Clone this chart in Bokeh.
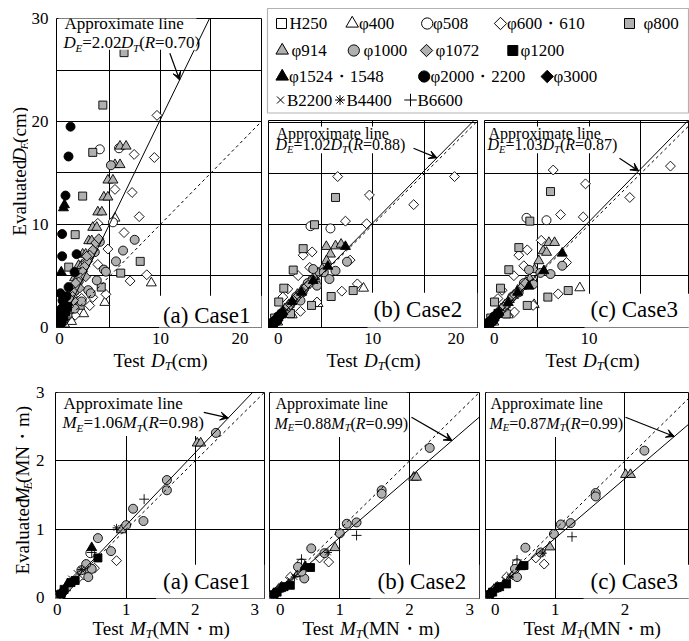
import math
from bokeh.plotting import figure
from bokeh.layouts import row, column
from bokeh.models import Range1d, FixedTicker, Label, Arrow, VeeHead, BoxAnnotation
from bokeh.embed import file_html
from bokeh.resources import INLINE

# ---------------------------------------------------------------- data
SERIES = ["H250", "φ400", "φ508", "φ600・610", "φ800", "φ914", "φ1000", "φ1072",
          "φ1200", "φ1524・1548", "φ2000・2200", "φ3000", "B2200", "B4400", "B6600"]
CASES = ["(a) Case1", "(b) Case2", "(c) Case3"]
D_SLOPE = [2.02, 1.02, 1.03]
D_R = [0.70, 0.88, 0.87]
M_SLOPE = [1.06, 0.88, 0.87]
M_R = [0.98, 0.99, 0.99]
D_TICKS = [0, 10, 20, 30]
D_GRID = [5, 10, 15, 20, 25]
M_TICKS = [0, 1, 2, 3]
M_GRID = [1, 2]

# displacement, Case1  (test D_T, evaluated D_E), cm
D1 = {
    "H250": ([0.1, 0.2, 0.3, 0.15], [0.2, 0.4, 0.7, 0.1]),
    "φ400": ([9.1, 5.5, 4.5, 2.4, 1.2, 0.5], [4.3, 10.6, 2.4, 1.3, 0.55, 0.3]),
    "φ508": ([4.0, 5.9, 5.3, 0.3, 0.6], [17.3, 17.4, 10.2, 0.6, 1.0]),
    "φ600・610": ([9.66, 9.4, 7.4, 7.2, 5.5, 7.9, 6.4, 3.8, 4.8, 3.8, 8.65, 7.0, 4.6, 3.0, 1.56, 2.2, 0.8, 1.2, 3.3],
                 [20.6, 16.5, 16.8, 13.1, 13.4, 10.75, 9.2, 10.1, 7.6, 6.1, 5.1, 4.5, 3.2, 2.1, 1.16, 2.8, 1.0, 2.4, 2.9]),
    "φ800": ([6.4, 4.3, 3.3, 2.3, 1.56, 0.92, 8.0, 6.07, 4.14, 2.05, 0.5, 0.3],
             [26.7, 21.6, 17.0, 12.75, 9.0, 5.84, 6.4, 5.26, 3.9, 2.13, 1.2, 0.6]),
    "φ914": ([6.0, 6.6, 5.5, 6.0, 4.8, 5.3, 4.4, 4.8, 3.8, 4.2, 3.3, 3.7, 2.9, 3.2, 2.3, 2.6, 1.9, 2.2, 1.5, 1.8, 1.1, 1.4, 0.7, 1.0, 0.3, 0.5],
             [17.6, 17.6, 15.8, 15.8, 14.3, 14.3, 12.65, 12.65, 11.2, 11.2, 9.7, 9.7, 8.4, 8.4, 7.1, 7.1, 6.0, 6.0, 4.8, 4.8, 3.5, 3.5, 2.2, 2.2, 1.0, 1.0]),
    "φ1000": ([5.1, 7.45, 6.3, 5.6, 4.4, 3.7, 2.85, 4.6, 3.1, 2.2, 1.5, 0.8, 0.4, 3.5, 2.6, 1.8, 2.9, 4.0],
              [15.75, 8.5, 7.45, 6.4, 5.6, 4.55, 3.6, 5.4, 3.3, 2.5, 1.8, 1.2, 0.6, 7.3, 6.3, 4.3, 6.8, 8.3]),
    "φ1072": ([3.6, 3.3, 3.0, 2.8, 2.5, 2.3, 2.1, 1.9, 1.7, 1.5, 1.3, 1.1, 0.9, 0.7, 0.5, 0.35, 0.2, 2.6, 2.0, 1.4, 3.9, 2.7, 1.6, 1.0],
              [8.2, 7.5, 7.0, 6.4, 5.9, 5.4, 4.8, 4.4, 3.9, 3.4, 3.0, 2.5, 2.0, 1.6, 1.2, 0.8, 0.5, 4.9, 3.8, 2.6, 8.6, 6.9, 4.3, 2.8]),
    "φ1200": ([0.2, 0.4, 0.6, 0.1, 0.8], [0.6, 1.0, 1.5, 0.3, 2.0]),
    "φ1524・1548": ([0.4, 0.5, 0.18, 0.3, 0.6, 0.1], [11.6, 11.9, 5.36, 2.0, 1.6, 0.5]),
    "φ2000・2200": ([1.1, 0.9, 0.6, 0.27, 0.27, 1.7, 1.5, 0.9, 0.1, 0.3, 0.2, 0.5, 0.1, 0.7, 0.05, 0.15],
                   [19.5, 16.6, 12.8, 9.06, 6.9, 7.1, 5.36, 3.9, 3.3, 2.6, 1.8, 2.2, 1.0, 3.0, 0.5, 1.4]),
    "φ3000": ([0.05, 0.15, 0.25], [0.1, 0.4, 0.7]),
    "B2200": ([0.1, 0.2], [0.15, 0.35]),
    "B4400": ([0.3], [0.5]),
    "B6600": ([0.35], [0.45]),
}

# displacement, Case2
D2 = {
    "H250": ([0.1, 0.3], [0.1, 0.3]),
    "φ400": ([9.1, 4.7, 2.2, 0.8], [3.8, 2.3, 1.2, 0.5]),
    "φ508": ([3.97, 5.9, 4.45, 0.4], [9.86, 9.64, 4.55, 0.5]),
    "φ600・610": ([6.6, 17.9, 9.67, 13.95, 7.35, 9.4, 4.13, 3.26, 7.8, 3.9, 2.78, 8.5, 7.0, 4.6, 3.0, 1.78, 1.3, 0.6],
                 [14.7, 14.7, 12.9, 11.96, 10.35, 10.1, 7.35, 7.03, 6.55, 5.84, 5.03, 4.23, 3.52, 2.46, 1.55, 3.74, 2.94, 0.8]),
    "φ800": ([6.39, 4.36, 3.26, 2.3, 1.39, 0.9, 5.97, 8.1, 4.07, 2.04, 0.5],
             [12.66, 10.0, 7.67, 5.58, 3.81, 2.46, 3.0, 3.58, 2.13, 1.33, 0.9]),
    "φ914": ([6.39, 6.93, 5.5, 5.9, 5.52, 5.1, 4.7, 4.3, 3.9, 3.5, 3.1, 2.7, 2.3, 1.9, 1.5, 1.1, 0.7, 0.35],
             [7.93, 8.09, 7.87, 7.13, 6.48, 5.68, 5.3, 4.9, 4.5, 4.1, 3.6, 3.2, 2.7, 2.2, 1.8, 1.3, 0.85, 0.4]),
    "φ1000": ([7.5, 6.39, 5.26, 4.6, 4.23, 3.7, 3.2, 2.6, 2.0, 1.4, 0.8, 5.8, 3.0],
              [6.39, 5.51, 5.36, 4.06, 5.68, 4.3, 3.4, 3.0, 2.2, 1.6, 0.9, 4.7, 2.6]),
    "φ1072": ([0.2, 0.45, 0.6, 0.85, 1.0, 1.25, 1.4, 1.65, 1.8, 2.05, 2.2, 2.4, 2.65, 2.8, 3.05, 3.3, 3.6, 3.85, 4.2],
              [0.25, 0.4, 0.7, 0.85, 1.15, 1.3, 1.6, 1.75, 2.05, 2.2, 2.5, 2.6, 2.95, 3.1, 3.35, 3.6, 4.0, 4.2, 4.65]),
    "φ1200": ([0.2, 0.4, 0.6, 0.9, 1.2, 0.3, 0.75], [0.2, 0.45, 0.6, 1.0, 1.3, 0.15, 0.7]),
    "φ1524・1548": ([7.35, 5.65, 4.23, 3.1, 2.2, 1.3, 0.6, 0.3], [7.87, 5.94, 4.55, 3.4, 2.5, 1.5, 0.7, 0.35]),
    "φ2000・2200": ([0.05, 0.1, 0.2, 0.3, 0.5, 0.7, 0.9, 1.1, 0.4, 0.15], [0.1, 0.2, 0.3, 0.4, 0.6, 0.8, 1.1, 1.2, 0.3, 0.05]),
    "φ3000": ([0.1, 0.2], [0.1, 0.25]),
    "B2200": ([0.15], [0.2]),
    "B4400": ([0.25], [0.3]),
    "B6600": ([0.35], [0.4]),
}

# displacement, Case3
D3 = {
    "H250": ([0.1, 0.3], [0.1, 0.3]),
    "φ400": ([9.11, 4.7, 2.2, 0.8], [3.84, 2.2, 1.2, 0.5]),
    "φ508": ([3.96, 5.89, 4.5, 0.4], [10.67, 10.44, 4.6, 0.5]),
    "φ600・610": ([6.54, 17.87, 9.66, 13.94, 7.25, 9.44, 5.38, 4.03, 3.22, 3.7, 2.74, 7.83, 7.02, 4.6, 2.8, 1.6, 1.2],
                 [15.34, 15.72, 13.99, 12.66, 10.99, 10.76, 8.48, 7.55, 7.03, 6.0, 5.03, 6.32, 3.26, 2.13, 1.49, 3.6, 2.8]),
    "φ800": ([6.28, 4.28, 3.22, 2.25, 1.45, 0.87, 6.02, 7.99, 4.03, 2.0, 0.5],
             [13.24, 10.35, 7.77, 5.61, 3.81, 2.46, 2.94, 3.58, 2.13, 1.3, 0.9]),
    "φ914": ([6.12, 6.67, 5.57, 5.9, 5.15, 4.73, 4.28, 3.9, 3.5, 3.1, 2.7, 2.3, 1.9, 1.5, 1.1, 0.7, 0.35],
             [8.26, 8.26, 7.45, 7.3, 6.48, 5.61, 4.71, 4.4, 4.0, 3.6, 3.1, 2.7, 2.2, 1.8, 1.3, 0.85, 0.4]),
    "φ1000": ([7.41, 6.28, 5.3, 4.6, 4.2, 3.7, 3.2, 2.6, 2.0, 1.4, 0.8],
              [6.0, 5.19, 5.3, 4.2, 5.6, 4.3, 3.4, 3.0, 2.2, 1.6, 0.9]),
    "φ1072": ([0.2, 0.45, 0.6, 0.85, 1.0, 1.25, 1.4, 1.65, 1.8, 2.05, 2.2, 2.4, 2.65, 2.8, 3.05, 3.3, 3.6, 3.85],
              [0.25, 0.45, 0.7, 0.9, 1.15, 1.35, 1.6, 1.8, 2.05, 2.25, 2.5, 2.7, 3.0, 3.15, 3.4, 3.7, 4.0, 4.3]),
    "φ1200": ([0.2, 0.4, 0.6, 0.9, 1.2, 0.3, 0.75], [0.2, 0.45, 0.6, 1.0, 1.35, 0.15, 0.75]),
    "φ1524・1548": ([7.41, 5.64, 4.19, 3.1, 2.2, 1.3, 0.6, 0.3], [7.22, 5.51, 4.0, 3.4, 2.4, 1.45, 0.7, 0.35]),
    "φ2000・2200": ([0.05, 0.1, 0.2, 0.3, 0.5, 0.7, 0.9, 1.1, 0.4, 0.15], [0.1, 0.2, 0.3, 0.4, 0.6, 0.8, 1.1, 1.2, 0.3, 0.05]),
    "φ3000": ([0.1, 0.2], [0.1, 0.25]),
    "B2200": ([0.15], [0.2]),
    "B4400": ([0.25], [0.3]),
    "B6600": ([0.35], [0.4]),
}

# moment, Case1  (test M_T, evaluated M_E), MN·m
M1 = {
    "H250": ([0.0, 0.02], [0.0, 0.02]),
    "φ400": ([0.05, 0.12], [0.05, 0.14]),
    "φ508": ([0.48], [0.65]),
    "φ600・610": ([0.86, 0.54, 0.38, 0.3, 0.1], [0.54, 0.43, 0.33, 0.28, 0.1]),
    "φ800": ([0.03], [0.03]),
    "φ914": ([2.03, 2.08, 0.93, 0.4], [2.26, 2.26, 0.99, 0.4]),
    "φ1000": ([2.3, 1.59, 1.59, 1.1, 1.25, 1.0, 0.59, 0.78, 0.5, 0.42, 0.35, 0.45],
              [2.41, 1.72, 1.57, 1.3, 1.12, 1.06, 0.87, 0.68, 0.42, 0.49, 0.4, 0.3]),
    "φ1072": ([0.15, 0.1], [0.15, 0.1]),
    "φ1200": ([0.59, 0.26, 0.2, 0.1, 0.05], [0.58, 0.25, 0.22, 0.12, 0.05]),
    "φ1524・1548": ([0.5, 0.15], [0.73, 0.2]),
    "φ2000・2200": ([0.08], [0.08]),
    "φ3000": ([0.04], [0.05]),
    "B2200": ([0.2, 0.28, 0.05], [0.28, 0.36, 0.06]),
    "B4400": ([0.86, 0.35], [1.02, 0.41]),
    "B6600": ([1.26, 0.5], [1.44, 0.66]),
}

# moment, Case2
M2 = {
    "H250": ([0.0, 0.02], [0.0, 0.02]),
    "φ400": ([0.05, 0.12], [0.05, 0.12]),
    "φ508": ([0.45], [0.5]),
    "φ600・610": ([0.84, 0.71, 0.29, 0.1], [0.52, 0.58, 0.3, 0.1]),
    "φ800": ([0.03], [0.03]),
    "φ914": ([2.06, 2.1, 0.93, 0.4], [1.76, 1.76, 0.73, 0.35]),
    "φ1000": ([2.29, 1.6, 1.6, 1.1, 1.24, 1.0, 0.59, 0.78, 0.49, 0.45, 0.4],
              [2.19, 1.57, 1.52, 1.08, 1.1, 0.94, 0.72, 0.65, 0.28, 0.38, 0.45]),
    "φ1072": ([0.15, 0.1], [0.14, 0.09]),
    "φ1200": ([0.58, 0.29, 0.2, 0.1, 0.05], [0.44, 0.18, 0.16, 0.08, 0.04]),
    "φ1524・1548": ([0.5, 0.15], [0.45, 0.13]),
    "φ2000・2200": ([0.08], [0.07]),
    "φ3000": ([0.04], [0.04]),
    "B2200": ([0.2, 0.28, 0.05], [0.2, 0.26, 0.05]),
    "B4400": ([0.83, 0.35], [0.66, 0.3]),
    "B6600": ([1.24, 0.45], [0.91, 0.56]),
}

# moment, Case3
M3 = {
    "H250": ([0.0, 0.02], [0.0, 0.02]),
    "φ400": ([0.05, 0.12], [0.05, 0.12]),
    "φ508": ([0.45], [0.5]),
    "φ600・610": ([0.84, 0.72, 0.3, 0.1], [0.49, 0.58, 0.3, 0.1]),
    "φ800": ([0.03], [0.03]),
    "φ914": ([2.01, 2.08, 0.92, 0.4], [1.8, 1.8, 0.74, 0.35]),
    "φ1000": ([2.28, 1.58, 1.58, 1.22, 1.08, 0.98, 0.57, 0.79, 0.45, 0.42],
              [2.15, 1.53, 1.48, 1.09, 1.07, 0.93, 0.73, 0.66, 0.3, 0.42]),
    "φ1072": ([0.15, 0.1], [0.14, 0.09]),
    "φ1200": ([0.55, 0.3, 0.2, 0.1, 0.05], [0.47, 0.2, 0.16, 0.08, 0.04]),
    "φ1524・1548": ([0.5, 0.15], [0.45, 0.13]),
    "φ2000・2200": ([0.08], [0.07]),
    "φ3000": ([0.04], [0.04]),
    "B2200": ([0.2, 0.28, 0.05], [0.2, 0.26, 0.05]),
    "B4400": ([0.82, 0.35], [0.65, 0.3]),
    "B6600": ([1.24, 0.45], [0.89, 0.55]),
}

# ---------------------------------------------------------------- styles
FONT = "Liberation Serif"
GRAY = "#b0b0b0"
DIAMOND_ANGLE = math.pi / 4
MID = 0.3375  # distance (em) from the alphabetic baseline up to the middle of the em box
STYLE = {  # marker, fill, size
    "H250": ("square", "white", 8), "φ400": ("triangle", "white", 10),
    "φ508": ("circle", "white", 9), "φ600・610": ("square", "white", 7),
    "φ800": ("square", GRAY, 8), "φ914": ("triangle", GRAY, 10),
    "φ1000": ("circle", GRAY, 9), "φ1072": ("square", GRAY, 7),
    "φ1200": ("square", "black", 8), "φ1524・1548": ("triangle", "black", 10),
    "φ2000・2200": ("circle", "black", 9), "φ3000": ("square", "black", 7),
    "B2200": ("x", None, 8), "B4400": ("asterisk", None, 8), "B6600": ("cross", None, 10),
}
ROTATED = {"φ600・610", "φ1072", "φ3000"}

REG_W = {' ': .25, '(': .333, ')': .333, '.': .25, '=': .564, 'A': .722, 'E': .611, 'D': .722,
         'M': .889, 'N': .722, 'T': .611, 'a': .444, 'c': .444, 'd': .5, 'e': .444, 'i': .278,
         'l': .278, 'm': .778, 'n': .5, 'o': .5, 'p': .5, 'r': .333, 's': .389, 't': .278,
         'u': .5, 'v': .5, 'x': .5, '・': 1.0}
IT_W = {'D': .722, 'E': .611, 'M': .833, 'T': .556, 'R': .611}


def tw(s, it, size):
    t = IT_W if it else REG_W
    return sum(t.get(c, REG_W.get(c, 0.5)) for c in s) * size


class Panel:
    """Geometry of one figure; annotation positions are given in page pixels."""
    def __init__(self, ox, oy, w, h, mbl, mbr, mbt, mbb, xr, yr):
        self.ox, self.oy, self.w, self.h = ox, oy, w, h
        self.mbl, self.mbr, self.mbt, self.mbb = mbl, mbr, mbt, mbb
        self.fw, self.fh = w - mbl - mbr, h - mbt - mbb
        self.fx0, self.fy0 = ox + mbl, oy + mbt
        self.xr, self.yr = xr, yr

    def dx(self, px):
        return self.xr[0] + (px - self.fx0) * (self.xr[1] - self.xr[0]) / self.fw

    def dy(self, py):
        return self.yr[1] - (py - self.fy0) * (self.yr[1] - self.yr[0]) / self.fh


def make_fig(P, xticks, xgrid, yticks, ygrid, show_y, xover, ystand, xstand):
    p = figure(width=P.w, height=P.h, x_range=Range1d(*P.xr), y_range=Range1d(*P.yr),
               output_backend="svg", toolbar_location=None, title=None,
               min_border_left=P.mbl, min_border_right=P.mbr,
               min_border_top=P.mbt, min_border_bottom=P.mbb)
    p.outline_line_color = "black"
    p.outline_line_width = 1
    p.background_fill_color = "white"
    p.border_fill_color = "white"
    for ax in p.axis:
        ax.axis_line_color = None
        ax.major_tick_line_color = None
        ax.minor_tick_line_color = None
        ax.major_tick_out = 0
        ax.major_tick_in = 0
        ax.minor_tick_out = 0
        ax.minor_tick_in = 0
        ax.axis_label_standoff = 0
        ax.major_label_text_font = FONT
        ax.major_label_text_font_size = "17px"
        ax.major_label_text_color = "black"
    p.xaxis.ticker = FixedTicker(ticks=xticks, minor_ticks=[])
    p.xaxis.major_label_overrides = xover
    p.xaxis.major_label_standoff = xstand
    p.yaxis.ticker = FixedTicker(ticks=yticks, minor_ticks=[])
    p.yaxis.major_label_standoff = ystand
    p.yaxis.visible = show_y
    p.xgrid.ticker = FixedTicker(ticks=xgrid, minor_ticks=[])
    p.ygrid.ticker = FixedTicker(ticks=ygrid, minor_ticks=[])
    for g in (p.xgrid, p.ygrid):
        g.grid_line_color = "black"
        g.grid_line_width = 1
        g.grid_line_alpha = 1
    return p


class Strip:
    """Blank figure used as a text area; its coordinates are pixels from its lower-left corner."""
    def __init__(self, ox, oy, w, h):
        self.ox, self.oy, self.h = ox, oy, h
        s = figure(width=w, height=h, x_range=Range1d(0, w), y_range=Range1d(0, h),
                   output_backend="svg", toolbar_location=None, title=None,
                   x_axis_type=None, y_axis_type=None,
                   min_border_left=0, min_border_right=0, min_border_top=0, min_border_bottom=0)
        s.outline_line_color = None
        s.xgrid.visible = False
        s.ygrid.visible = False
        self.fig = s

    def dx(self, x):
        return x - self.ox

    def dy(self, y):
        return self.h - (y - self.oy)


def text_at(p, P, x, y, txt, fs, italic=False, vertical=False):
    """Place text whose alphabetic baseline starts at page pixel (x, y)."""
    if vertical:
        x = x - MID * fs
    else:
        y = y - MID * fs
    p.add_layout(Label(x=P.dx(x), y=P.dy(y), text=txt, text_font=FONT,
                       text_font_size=f"{fs:.1f}px",
                       text_font_style="italic" if italic else "normal",
                       text_align="left", text_baseline="middle", text_color="black",
                       angle=math.pi / 2 if vertical else 0.0))


def draw_points(p, data):
    for name in SERIES:
        if name not in data:
            continue
        xs, ys = data[name]
        marker, fill, size = STYLE[name]
        kw = dict(marker=marker, size=size, line_color="black", line_width=0.9)
        if fill is not None:
            kw["fill_color"] = fill
        if name in ROTATED:
            kw["angle"] = DIAMOND_ANGLE
        p.scatter(xs, ys, **kw)


def rich_label(p, P, rx, ry, pieces, size, vertical=False, gap=0.0):
    pos = ry if vertical else rx
    for txt, it, sub in pieces:
        fs = size * 0.66 if sub else size
        off = size * 0.18 if sub else 0.0
        x, y = (rx + off, pos) if vertical else (pos, ry + off)
        text_at(p, P, x, y, txt, fs, it, vertical)
        w = tw(txt, it, fs) + (gap if txt.endswith(" ") else 0.0)
        pos = pos - w if vertical else pos + w


def white_box(p, P, x0, x1, y0, y1):
    p.add_layout(BoxAnnotation(left=P.dx(x0), right=P.dx(x1), top=P.dy(y0), bottom=P.dy(y1),
                               fill_color="white", fill_alpha=1.0, line_color=None, level="annotation"))


def fit_lines(p, P, slope):
    xe = P.xr[1]
    p.line([0, xe], [0, xe], line_color="black", line_width=1, line_dash="3 3")
    p.line([0, xe], [0, slope * xe], line_color="black", line_width=1)


def formula(sym, slope, r):
    return [(sym, True, False), ("E", True, True), (f"={slope:.2f}", False, False),
            (sym, True, False), ("T", True, True), ("(", False, False),
            ("R", True, False), (f"={r:.2f})", False, False)]


def annotate(p, P, sym, slope, r, case, lay):
    (bx0, bx1, by0, by1), (tx, ty1, ty2, tsize), (ax, ay, axe), (cbx0, cbx1, cby0, cby1), (cx, cy) = lay
    white_box(p, P, bx0, bx1, by0, by1)
    white_box(p, P, cbx0, cbx1, cby0, cby1)
    text_at(p, P, tx, ty1, "Approximate line", tsize)
    rich_label(p, P, tx - 1, ty2, formula(sym, slope, r), tsize)
    p.add_layout(Arrow(end=VeeHead(size=8, fill_color="black", line_color="black", line_width=1),
                       x_start=P.dx(ax), y_start=P.dy(ay), x_end=axe, y_end=slope * axe,
                       line_color="black", line_width=1.2))
    text_at(p, P, cx, cy, case, 23)


FS = "\u2007"

# ---------------------------------------------------------------- top row (displacement)
PA = Panel(28, 0, 237, 350, 25, 4, 18, 21, (-0.29, 20.01), (-0.03, 30.02))
PB = Panel(265, 120, 216, 230, 3, 4, 0, 21, (-0.09, 20.12), (-0.025, 20.17))
PC = Panel(481, 120, 208, 230, 3, 0, 0, 21, (-0.1, 19.71), (-0.025, 20.17))

pa = make_fig(PA, D_TICKS[:3], D_GRID[:3], D_TICKS, D_GRID, True, {20: "20" + FS * 2}, 8, 1)
pb = make_fig(PB, D_TICKS[:3], D_GRID[:3], D_TICKS, D_GRID, False, {0: FS + "0", 20: "20" + FS * 2}, 8, 1)
pc = make_fig(PC, D_TICKS[:3], D_GRID[:3], D_TICKS, D_GRID, False, {0: FS + "0"}, 8, 1)

D_LAYOUT = [
    ((55, 195, 17, 49.5), (61, 28.5, 48, 17), (168, 53, 11.9), (157, 262, 297, 330), (161, 325)),
    ((273, 408, 126, 153), (276, 139, 150, 16), (413, 148, 16.2), (367, 477, 294, 330), (373, 319)),
    ((486, 618, 126, 153), (488, 139, 150, 16), (619, 158, 14.8), (584, 690, 295, 330), (590, 319)),
]
for i, (p, P, data) in enumerate([(pa, PA, D1), (pb, PB, D2), (pc, PC, D3)]):
    draw_points(p, data)
    fit_lines(p, P, D_SLOPE[i])
    annotate(p, P, "D", D_SLOPE[i], D_R[i], CASES[i], D_LAYOUT[i])

# y title (top)
yt_top = Strip(0, 0, 28, 350)
rich_label(yt_top.fig, yt_top, 25, 246, [("Evaluated ", False, False), ("D", True, False), ("E", True, True),
                                         ("(cm)", False, False)], 19, vertical=True, gap=3.0)

# legend
LG = Strip(265, 0, 424, 120)
pl = LG.fig
pl.add_layout(BoxAnnotation(left=LG.dx(267), right=LG.dx(688), top=LG.dy(8), bottom=LG.dy(112.5),
                            fill_color=None, line_color="black", line_width=1.2))
LEGEND_LAYOUT = [  # marker x, row y, text x  (page pixels)
    (281, 23, 289), (351.7, 23, 358.5), (426.7, 23, 432.5), (500, 23, 506.5), (629, 23, 643),
    (281.7, 50, 291), (353.3, 50, 363), (426, 50, 435), (512.3, 50, 520),
    (281.7, 76, 288.5), (423.7, 76, 430), (546.7, 76, 553),
    (280, 99.5, 286.5), (339.5, 99.5, 346), (410, 99.5, 417),
]
for name, (mx, my, tx) in zip(SERIES, LEGEND_LAYOUT):
    marker, fill, size = STYLE[name]
    kw = dict(marker=marker, size=size * 1.25, line_color="black", line_width=1)
    if fill is not None:
        kw["fill_color"] = fill
    if name in ROTATED:
        kw["angle"] = DIAMOND_ANGLE
    pl.scatter([LG.dx(mx)], [LG.dy(my)], **kw)
    text_at(pl, LG, tx, my + 6, name, 17)

# x titles (top)
xt_top = Strip(0, 350, 689, 30)
for tx in (113, 326, 545):
    rich_label(xt_top.fig, xt_top, tx, 366, [("Test ", False, False), ("D", True, False), ("T", True, True),
                                             ("(cm)", False, False)], 19)

# ---------------------------------------------------------------- bottom row (moment)
QA = Panel(32, 380, 235, 241, 22, 3, 12, 21, (-0.025, 3.005), (-0.0135, 3.001))
QB = Panel(267, 380, 215, 241, 2, 3, 12, 21, (-0.009, 3.004), (-0.0135, 3.001))
QC = Panel(482, 380, 207, 241, 3, 0, 12, 21, (-0.003, 2.928), (-0.0135, 3.001))

qa = make_fig(QA, M_TICKS, M_GRID, M_TICKS, M_GRID, True, {3: "3" + FS}, 11, 1)
qb = make_fig(QB, M_TICKS, M_GRID, M_TICKS, M_GRID, False, {0: FS + "0", 3: "3" + FS}, 11, 1)
qc = make_fig(QC, M_TICKS, M_GRID, M_TICKS, M_GRID, False, {0: FS + "0"}, 11, 1)

M_LAYOUT = [
    ((56, 199, 392, 436), (62, 408.5, 428.5, 17), (203, 412, 2.48), (155, 264, 566, 601), (162, 591)),
    ((271, 406, 392, 437), (275, 408.5, 428.5, 16), (411, 417, 2.61), (370, 479, 566, 601), (377, 591)),
    ((486, 620, 392, 437), (490, 408.5, 428.5, 16), (625, 417, 2.71), (583, 690, 566, 601), (590, 591)),
]
for i, (p, P, data) in enumerate([(qa, QA, M1), (qb, QB, M2), (qc, QC, M3)]):
    draw_points(p, data)
    fit_lines(p, P, M_SLOPE[i])
    annotate(p, P, "M", M_SLOPE[i], M_R[i], CASES[i], M_LAYOUT[i])

yt_bot = Strip(0, 380, 32, 241)
rich_label(yt_bot.fig, yt_bot, 28, 593, [("Evaluated ", False, False), ("M", True, False), ("E", True, True),
                                         ("(MN・m)", False, False)], 19, vertical=True, gap=3.0)

xt_bot = Strip(0, 621, 689, 20)
for tx in (92, 302, 523):
    rich_label(xt_bot.fig, xt_bot, tx, 634, [("Test ", False, False), ("M", True, False), ("T", True, True),
                                             ("(MN・m)", False, False)], 19)

layout = column(
    row(yt_top.fig, pa, column(pl, row(pb, pc))),
    xt_top.fig,
    row(yt_bot.fig, qa, qb, qc),
    xt_bot.fig,
)
open("out.html", "w").write(file_html(layout, INLINE))
